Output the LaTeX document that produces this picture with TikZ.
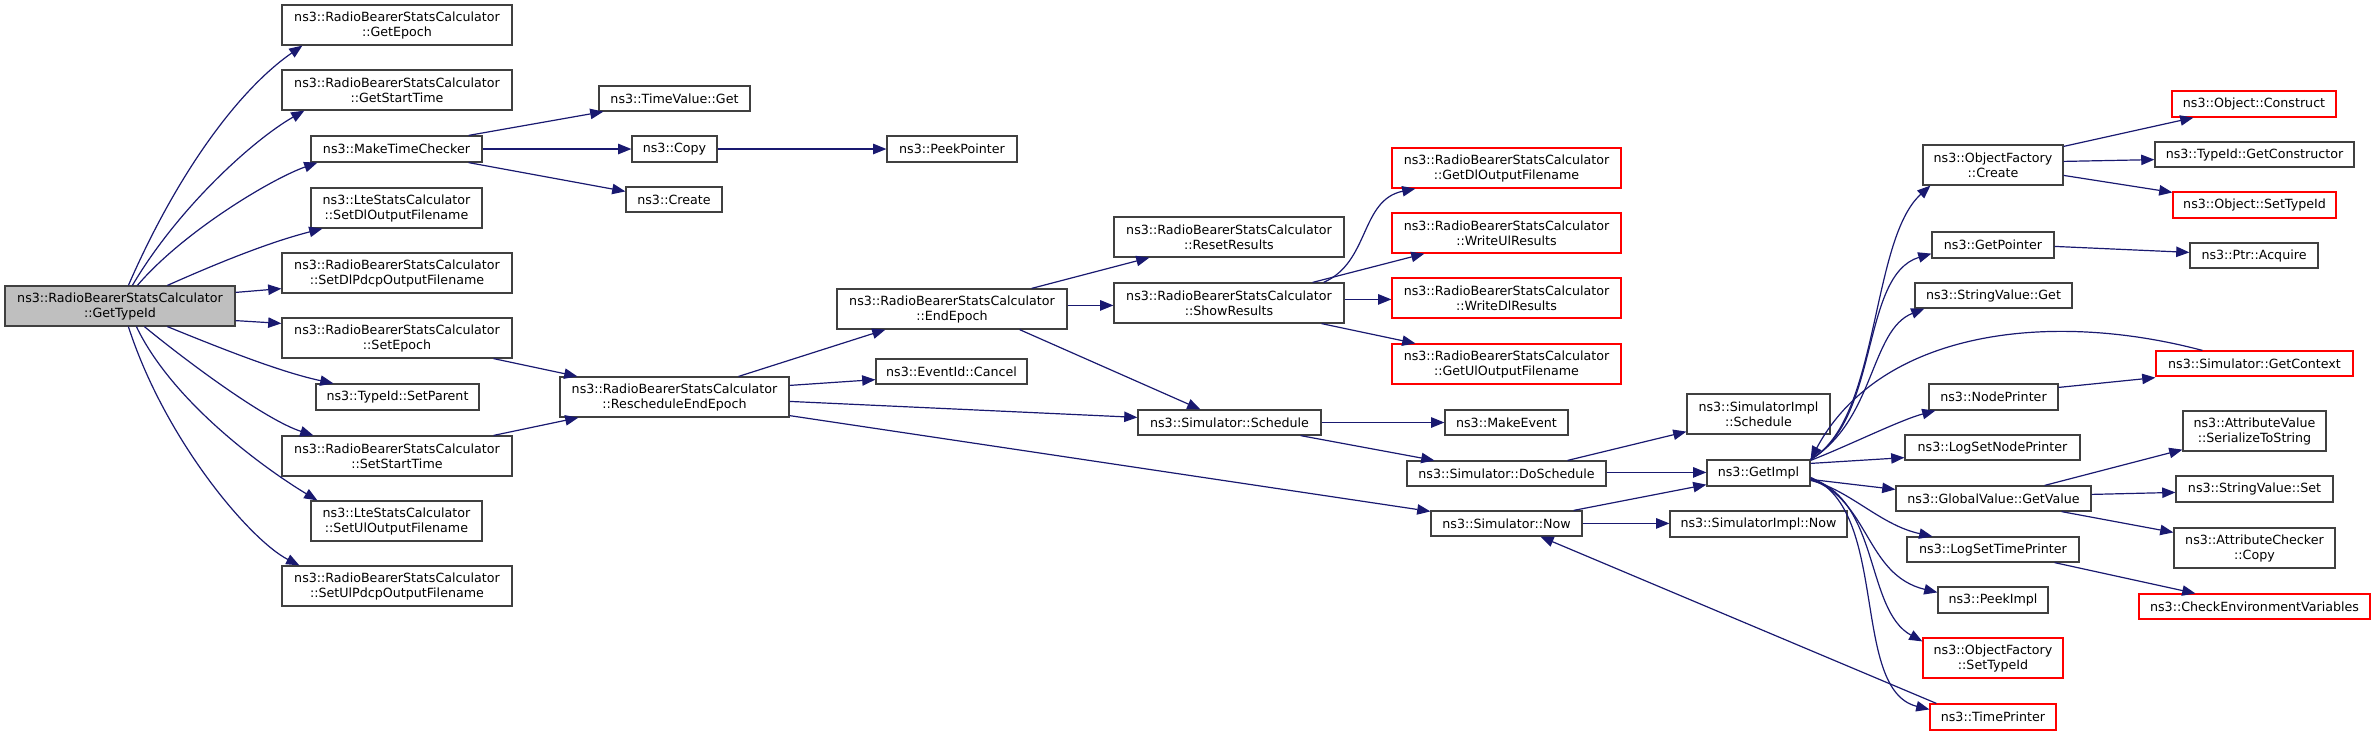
\documentclass[tikz,border=0pt]{standalone}
\usepackage{fontspec}
\setmainfont{DejaVu Sans}
\usetikzlibrary{arrows.meta,calc}
\definecolor{edgec}{HTML}{191970}
\definecolor{boxc}{HTML}{404040}
\definecolor{rootc}{HTML}{BFBFBF}
\tikzset{
 box/.style={draw=boxc, line width=0.6pt, fill=white, rectangle, inner sep=0pt, align=center, font=\fontsize{6.33}{7.5}\selectfont},
 trunc/.style={draw=red},
 root/.style={fill=rootc},
 call/.style={draw=edgec, line width=0.6pt, -{Triangle[length=6.6pt,width=5.2pt]}},
}
\newcommand\nbox[7][]{\node[box,#1,minimum width={(#5-#3)*0.5pt},minimum height={(#6-#4)*0.5pt}] (#2) at ({(#3+#5)/2},{(#4+#6)/2}) {#7};}
\begin{document}
\begin{tikzpicture}[x=0.5pt,y=-0.5pt]
\useasboundingbox (0,0) rectangle (2376,736);
% nodes
\nbox[root]{n-gt}{5}{286}{235}{326}{ns3::RadioBearerStatsCalculator\\::GetTypeId}
\nbox{n-ge}{282}{5}{512}{45}{ns3::RadioBearerStatsCalculator\\::GetEpoch}
\nbox{n-gst}{282}{70}{512}{110}{ns3::RadioBearerStatsCalculator\\::GetStartTime}
\nbox{n-mtc}{311}{136}{482}{162}{ns3::MakeTimeChecker}
\nbox{n-sdo}{311}{188}{482}{228}{ns3::LteStatsCalculator\\::SetDlOutputFilename}
\nbox{n-sdp}{282}{253}{512}{293}{ns3::RadioBearerStatsCalculator\\::SetDlPdcpOutputFilename}
\nbox{n-se}{282}{318}{512}{358}{ns3::RadioBearerStatsCalculator\\::SetEpoch}
\nbox{n-sp}{316}{384}{479}{410}{ns3::TypeId::SetParent}
\nbox{n-sst}{282}{436}{512}{476}{ns3::RadioBearerStatsCalculator\\::SetStartTime}
\nbox{n-suo}{311}{501}{482}{541}{ns3::LteStatsCalculator\\::SetUlOutputFilename}
\nbox{n-sup}{282}{566}{512}{606}{ns3::RadioBearerStatsCalculator\\::SetUlPdcpOutputFilename}
\nbox{n-tvg}{599}{86}{750}{111}{ns3::TimeValue::Get}
\nbox{n-cp}{632}{136}{717}{162}{ns3::Copy}
\nbox{n-pp}{887}{136}{1017}{162}{ns3::PeekPointer}
\nbox{n-cr}{626}{187}{722}{212}{ns3::Create}
\nbox{n-ee}{837}{289}{1067}{329}{ns3::RadioBearerStatsCalculator\\::EndEpoch}
\nbox{n-ree}{560}{377}{789}{417}{ns3::RadioBearerStatsCalculator\\::RescheduleEndEpoch}
\nbox{n-ec}{876}{359}{1027}{384}{ns3::EventId::Cancel}
\nbox{n-rr}{1114}{217}{1344}{257}{ns3::RadioBearerStatsCalculator\\::ResetResults}
\nbox{n-sr}{1114}{283}{1344}{323}{ns3::RadioBearerStatsCalculator\\::ShowResults}
\nbox[trunc]{n-gdo}{1392}{148}{1621}{188}{ns3::RadioBearerStatsCalculator\\::GetDlOutputFilename}
\nbox[trunc]{n-wur}{1392}{213}{1621}{253}{ns3::RadioBearerStatsCalculator\\::WriteUlResults}
\nbox[trunc]{n-wdr}{1392}{278}{1621}{318}{ns3::RadioBearerStatsCalculator\\::WriteDlResults}
\nbox[trunc]{n-guo}{1392}{344}{1621}{384}{ns3::RadioBearerStatsCalculator\\::GetUlOutputFilename}
\nbox{n-ss}{1138}{410}{1321}{435}{ns3::Simulator::Schedule}
\nbox{n-me}{1445}{410}{1568}{435}{ns3::MakeEvent}
\nbox{n-ds}{1407}{461}{1606}{486}{ns3::Simulator::DoSchedule}
\nbox{n-sn}{1431}{511}{1582}{536}{ns3::Simulator::Now}
\nbox{n-sis}{1687}{394}{1830}{434}{ns3::SimulatorImpl\\::Schedule}
\nbox{n-gi}{1707}{460}{1810}{486}{ns3::GetImpl}
\nbox{n-sin}{1670}{511}{1847}{537}{ns3::SimulatorImpl::Now}
\nbox{n-ofc}{1923}{145}{2063}{185}{ns3::ObjectFactory\\::Create}
\nbox[trunc]{n-oc}{2172}{91}{2336}{117}{ns3::Object::Construct}
\nbox{n-tgc}{2155}{142}{2354}{167}{ns3::TypeId::GetConstructor}
\nbox[trunc]{n-ost}{2173}{192}{2336}{218}{ns3::Object::SetTypeId}
\nbox{n-gp}{1932}{232}{2054}{258}{ns3::GetPointer}
\nbox{n-pa}{2190}{243}{2318}{268}{ns3::Ptr::Acquire}
\nbox{n-svg}{1915}{283}{2072}{308}{ns3::StringValue::Get}
\nbox[trunc]{n-sgc}{2156}{351}{2353}{376}{ns3::Simulator::GetContext}
\nbox{n-np}{1929}{384}{2058}{410}{ns3::NodePrinter}
\nbox{n-lsnp}{1905}{435}{2080}{460}{ns3::LogSetNodePrinter}
\nbox{n-gvg}{1896}{486}{2091}{511}{ns3::GlobalValue::GetValue}
\nbox{n-lstp}{1907}{537}{2079}{562}{ns3::LogSetTimePrinter}
\nbox{n-pi}{1938}{587}{2048}{613}{ns3::PeekImpl}
\nbox[trunc]{n-ofst}{1923}{638}{2063}{678}{ns3::ObjectFactory\\::SetTypeId}
\nbox[trunc]{n-tp}{1930}{704}{2056}{730}{ns3::TimePrinter}
\nbox{n-avs}{2183}{411}{2326}{451}{ns3::AttributeValue\\::SerializeToString}
\nbox{n-svs}{2176}{476}{2333}{502}{ns3::StringValue::Set}
\nbox{n-acc}{2174}{528}{2335}{568}{ns3::AttributeChecker\\::Copy}
\nbox[trunc]{n-cev}{2139}{594}{2370}{619}{ns3::CheckEnvironmentVariables}
% edges from GetTypeId
\draw[call] ($(n-gt.north west)+(124,0)$) .. controls (176,176) and (237,91) .. ($(n-ge.south west)+(21,0)$);
\draw[call] ($(n-gt.north west)+(128,0)$) .. controls (178,208) and (253,140) .. ($(n-gst.south west)+(23,0)$);
\draw[call] ($(n-gt.north west)+(133,0)$) .. controls (183,232) and (271,179) .. ($(n-mtc.south west)+(7,0)$);
\draw[call] ($(n-gt.north west)+(163,0)$) .. controls (220,262) and (270,242) .. ($(n-sdo.south west)+(12,0)$);
\draw[call] ($(n-gt.north east)+(0,7)$) -- ($(n-sdp.south west)+(0,-5)$);
\draw[call] ($(n-gt.south east)+(0,-6)$) -- ($(n-se.north west)+(0,6)$);
\draw[call] ($(n-gt.south west)+(163,0)$) .. controls (220,348) and (280,372) .. ($(n-sp.north west)+(18,0)$);
\draw[call] ($(n-gt.south west)+(140,0)$) .. controls (190,364) and (266,420) .. ($(n-sst.north west)+(32,0)$);
\draw[call] ($(n-gt.south west)+(132,0)$) .. controls (175,407) and (275,475) .. ($(n-suo.north west)+(7,0)$);
\draw[call] ($(n-gt.south west)+(124,0)$) .. controls (165,440) and (250,540) .. ($(n-sup.north west)+(18,0)$);
% MakeTimeChecker
\draw[call] ($(n-mtc.north east)+(-14,0)$) -- ($(n-tvg.south west)+(5,0)$);
\draw[call] (n-mtc.east) -- (n-cp.west);
\draw[call] ($(n-mtc.south east)+(-14,0)$) -- ($(n-cr.north west)+(0,5)$);
\draw[call] (n-cp.east) -- (n-pp.west);
% to RescheduleEndEpoch
\draw[call] ($(n-se.south east)+(-19,0)$) -- ($(n-ree.north west)+(18,0)$);
\draw[call] ($(n-sst.north east)+(-19,0)$) -- ($(n-ree.south west)+(19,0)$);
% from RescheduleEndEpoch
\draw[call] ($(n-ree.north east)+(-51,0)$) -- ($(n-ee.south west)+(49,0)$);
\draw[call] ($(n-ree.north east)+(0,9)$) -- ($(n-ec.south west)+(0,-5)$);
\draw[call] ($(n-ree.north east)+(0,25)$) -- ($(n-ss.north west)+(0,8)$);
\draw[call] ($(n-ree.south east)+(0,-2)$) -- ($(n-sn.north west)+(0,1)$);
% from EndEpoch
\draw[call] ($(n-ee.north east)+(-36,0)$) -- ($(n-rr.south west)+(36,0)$);
\draw[call] ($(n-ee.north east)+(0,17)$) -- ($(n-sr.north west)+(0,23)$);
\draw[call] ($(n-ee.south east)+(-48,0)$) -- ($(n-ss.north west)+(63,0)$);
% from ShowResults
\draw[call] ($(n-sr.north east)+(-21,0)$) .. controls (1370,262) and (1360,200) .. ($(n-gdo.south west)+(24,0)$);
\draw[call] ($(n-sr.north east)+(-32,0)$) -- ($(n-wur.south west)+(33,0)$);
\draw[call] ($(n-sr.north east)+(0,17)$) -- ($(n-wdr.north west)+(0,22)$);
\draw[call] ($(n-sr.south east)+(-23,0)$) -- ($(n-guo.north west)+(24,0)$);
% Simulator
\draw[call] (n-ss.east) -- (n-me.west);
\draw[call] ($(n-ss.south east)+(-21,0)$) -- ($(n-ds.north west)+(28,0)$);
\draw[call] ($(n-ds.north east)+(-39,0)$) -- ($(n-sis.south west)+(0,-3)$);
\draw[call] ($(n-ds.north east)+(0,12)$) -- ($(n-gi.north west)+(0,13)$);
\draw[call] ($(n-sn.north east)+(-9,0)$) -- ($(n-gi.south west)+(0,-2)$);
\draw[call] ($(n-sn.north east)+(0,13)$) -- ($(n-sin.north west)+(0,13)$);
\draw[call] ($(n-tp.north west)+(7,0)$) -- ($(n-sn.south west)+(110,0)$);
\draw[call] ($(n-sgc.north west)+(47,0)$) .. controls (2050,310) and (1880,330) .. (n-gi.north east);
% from GetImpl
\draw[call] (n-gi.north east) .. controls (1880,420) and (1870,240) .. ($(n-ofc.south west)+(8,0)$);
\draw[call] (n-gi.north east) .. controls (1880,420) and (1860,275) .. ($(n-gp.south west)+(0,-5)$);
\draw[call] (n-gi.north east) .. controls (1875,420) and (1870,330) .. ($(n-svg.south west)+(10,0)$);
\draw[call] ($(n-gi.north east)+(0,1)$) .. controls (1850,445) and (1900,420) .. ($(n-np.south west)+(7,0)$);
\draw[call] ($(n-gi.north east)+(0,4)$) -- ($(n-lsnp.south west)+(0,-3)$);
\draw[call] ($(n-gi.north east)+(0,20)$) -- ($(n-gvg.north west)+(0,4)$);
\draw[call] ($(n-gi.north east)+(0,21)$) .. controls (1850,490) and (1880,525) .. ($(n-lstp.north west)+(26,0)$);
\draw[call] ($(n-gi.north east)+(0,20)$) .. controls (1870,500) and (1865,575) .. ($(n-pi.north west)+(0,6)$);
\draw[call] ($(n-gi.north east)+(0,19)$) .. controls (1880,500) and (1865,610) .. ($(n-ofst.north west)+(0,4)$);
\draw[call] ($(n-gi.north east)+(0,18)$) .. controls (1890,510) and (1850,690) .. ($(n-tp.north west)+(0,6)$);
% right column
\draw[call] ($(n-ofc.north east)+(0,2)$) -- ($(n-oc.south west)+(22,0)$);
\draw[call] ($(n-ofc.north east)+(0,17)$) -- ($(n-tgc.south west)+(0,-8)$);
\draw[call] ($(n-ofc.north east)+(0,31)$) -- ($(n-ost.north west)+(0,1)$);
\draw[call] ($(n-gp.north east)+(0,15)$) -- ($(n-pa.north west)+(0,10)$);
\draw[call] ($(n-np.north east)+(0,4)$) -- ($(n-sgc.south west)+(0,1)$);
\draw[call] ($(n-gvg.north east)+(-47,0)$) -- ($(n-avs.south west)+(0,-2)$);
\draw[call] ($(n-gvg.north east)+(0,9)$) -- ($(n-svs.north west)+(0,17)$);
\draw[call] ($(n-gvg.south east)+(-30,0)$) -- ($(n-acc.north west)+(0,5)$);
\draw[call] ($(n-lstp.south east)+(-25,0)$) -- ($(n-cev.north west)+(57,0)$);
\end{tikzpicture}
\end{document}
